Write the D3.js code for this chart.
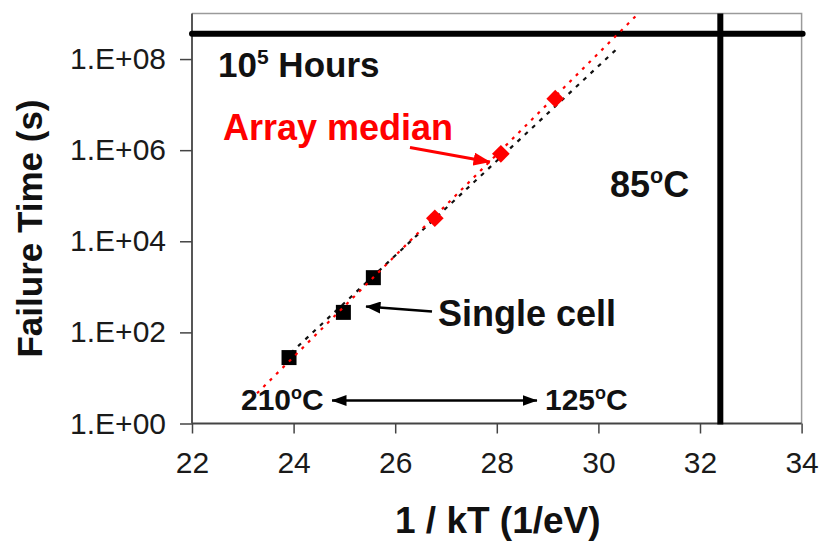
<!DOCTYPE html>
<html>
<head>
<meta charset="utf-8">
<script src="https://cdn.jsdelivr.net/npm/d3@7"></script>
<style>
  html, body { margin: 0; padding: 0; background: #fff; }
  svg { display: block; font-family: "Liberation Sans", Arial, sans-serif; }
</style>
</head>
<body>
<svg id="chart" width="820" height="543"></svg>
<script>
// Single-cell failure times (s) versus 1/kT (1/eV)
const singleCellX = [23.91, 24.98, 25.57];
const singleCellT = [28, 275, 1590];

// Array median failure times (s)
const arrayMedianX = [26.78, 28.08, 29.15];
const arrayMedianT = [3.2e4, 8.3e5, 1.35e7];

// Arrhenius fit lines (end points)
const singleFitX = [23.8, 30.39];
const singleFitT = [25, 1.78e8];
const arrayFitX = [23.28, 30.75];
const arrayFitT = [4.6, 9.1e8];

// Reference levels: 10^5 hours in seconds, and 85 °C as 1/kT
const hoursLevel = 3.6e8;
const temp85X = 32.4;

// Axis ticks
const xTicks = [22, 24, 26, 28, 30, 32, 34];
const yTicks = [1, 1e2, 1e4, 1e6, 1e8];

const svg = d3.select("#chart");
const plotL = 192, plotR = 801.6, plotT = 13.5, plotB = 423.5;

const x = d3.scaleLinear().domain([22, 34]).range([plotL, plotR]);
const y = d3.scaleLog().domain([1, 1e9]).range([plotB, plotT]);

// Frame (top and right)
svg.append("path")
  .attr("d", `M${plotL},${plotT}H${plotR}V${plotB}`)
  .attr("fill", "none").attr("stroke", "#9a9a9a").attr("stroke-width", 1.5);

// Axes
const xAxis = d3.axisBottom(x).tickValues(xTicks).tickSize(10).tickPadding(18)
  .tickFormat(d3.format("d"));
const yAxis = d3.axisLeft(y).tickValues(yTicks).tickSize(12).tickPadding(14)
  .tickFormat(d => "1.E+" + String(Math.round(Math.log10(d))).padStart(2, "0"));

const gx = svg.append("g").attr("transform", `translate(0,${plotB})`).call(xAxis);
const gy = svg.append("g").attr("transform", `translate(${plotL},0)`).call(yAxis);
[gx, gy].forEach(g => {
  g.select(".domain").attr("stroke", "#444").attr("stroke-width", 1.8);
  g.selectAll(".tick line").attr("stroke", "#444").attr("stroke-width", 1.5);
  g.selectAll(".tick text").attr("fill", "#1a1a1a").attr("font-size", 30)
    .attr("font-family", "'Liberation Sans', Arial, sans-serif");
});
gx.select(".domain").attr("d", `M${plotL},0H${plotR}`);
gy.select(".domain").attr("d", `M0,${plotB}V${plotT}`);

// Axis titles
svg.append("text")
  .attr("x", (plotL + plotR) / 2 + 1).attr("y", 533)
  .attr("text-anchor", "middle").attr("font-weight", "bold").attr("font-size", 37)
  .attr("fill", "#111").text("1 / kT (1/eV)");
svg.append("text")
  .attr("transform", `translate(42,${(plotT + plotB) / 2 + 10}) rotate(-90)`)
  .attr("text-anchor", "middle").attr("font-weight", "bold").attr("font-size", 35)
  .attr("fill", "#111").text("Failure Time (s)");

// Reference lines
svg.append("line")
  .attr("x1", plotL).attr("x2", plotR + 1)
  .attr("y1", y(hoursLevel)).attr("y2", y(hoursLevel))
  .attr("stroke", "#000").attr("stroke-width", 6).attr("stroke-linecap", "round");
svg.append("line")
  .attr("x1", x(temp85X)).attr("x2", x(temp85X))
  .attr("y1", plotT).attr("y2", plotB + 1)
  .attr("stroke", "#000").attr("stroke-width", 6);

// Fit lines
const line = d3.line().x(d => x(d[0])).y(d => y(d[1]));
svg.append("path")
  .datum(d3.zip(singleFitX, singleFitT))
  .attr("d", line).attr("fill", "none")
  .attr("stroke", "#111").attr("stroke-width", 2.2).attr("stroke-dasharray", "4,6");

// Single-cell squares
const sq = 15;
svg.append("g").selectAll("rect")
  .data(d3.zip(singleCellX, singleCellT)).join("rect")
  .attr("x", d => x(d[0]) - sq / 2).attr("y", d => y(d[1]) - sq / 2)
  .attr("width", sq).attr("height", sq).attr("fill", "#000");

// Array median diamonds
const dm = 12.5;
svg.append("g").selectAll("rect")
  .data(d3.zip(arrayMedianX, arrayMedianT)).join("rect")
  .attr("x", -dm / 2).attr("y", -dm / 2).attr("width", dm).attr("height", dm)
  .attr("transform", d => `translate(${x(d[0])},${y(d[1])}) rotate(45)`)
  .attr("fill", "#ff0000");

svg.append("path")
  .datum(d3.zip(arrayFitX, arrayFitT))
  .attr("d", line).attr("fill", "none")
  .attr("stroke", "#ff0000").attr("stroke-width", 2.2).attr("stroke-dasharray", "3,6");

// Arrow markers (sized in user units)
const defs = svg.append("defs");
function marker(id, color, orient, len, wid) {
  defs.append("marker").attr("id", id)
    .attr("viewBox", `0 0 ${len} ${wid}`).attr("refX", len - 0.5).attr("refY", wid / 2)
    .attr("markerWidth", len).attr("markerHeight", wid)
    .attr("markerUnits", "userSpaceOnUse").attr("orient", orient)
    .append("path").attr("d", `M0,0L${len},${wid / 2}L0,${wid}Z`).attr("fill", color);
}
marker("ahRed", "#ff0000", "auto", 17, 13);
marker("ahBlack", "#000", "auto", 15, 12);
marker("ahBlackStart", "#000", "auto-start-reverse", 15, 11);
marker("ahBlackEnd", "#000", "auto", 15, 11);

// Annotation arrows
svg.append("line")
  .attr("x1", 410).attr("y1", 147.5).attr("x2", 490).attr("y2", 162)
  .attr("stroke", "#ff0000").attr("stroke-width", 3).attr("marker-end", "url(#ahRed)");
svg.append("line")
  .attr("x1", 432).attr("y1", 311.5).attr("x2", 366).attr("y2", 306.5)
  .attr("stroke", "#000").attr("stroke-width", 2.6).attr("marker-end", "url(#ahBlack)");
svg.append("line")
  .attr("x1", 332).attr("y1", 400.5).attr("x2", 537).attr("y2", 400.5)
  .attr("stroke", "#000").attr("stroke-width", 2.6)
  .attr("marker-start", "url(#ahBlackStart)").attr("marker-end", "url(#ahBlackEnd)");

// Text annotations; superscripts are raised tspans
function label(xp, yp, size, color, parts) {
  const t = svg.append("text").attr("x", xp).attr("y", yp)
    .attr("font-weight", "bold").attr("font-size", size).attr("fill", color);
  let raised = false;
  parts.forEach(p => {
    const s = t.append("tspan").text(p.t);
    if (p.sup) {
      s.attr("font-size", size * 0.6).attr("dy", -size * 0.38);
      raised = true;
    } else if (raised) {
      s.attr("dy", size * 0.38);
      raised = false;
    }
  });
  return t;
}
label(218, 77, 35, "#111", [{t: "10"}, {t: "5", sup: true}, {t: " Hours"}]);
label(223, 140, 36, "#ff0000", [{t: "Array median"}]);
label(610, 197, 36, "#111", [{t: "85"}, {t: "o", sup: true}, {t: "C"}]);
label(438, 326, 36, "#111", [{t: "Single cell"}]);
label(241, 410, 30, "#111", [{t: "210"}, {t: "o", sup: true}, {t: "C"}]);
label(545, 410, 30, "#111", [{t: "125"}, {t: "o", sup: true}, {t: "C"}]);
</script>
</body>
</html>
